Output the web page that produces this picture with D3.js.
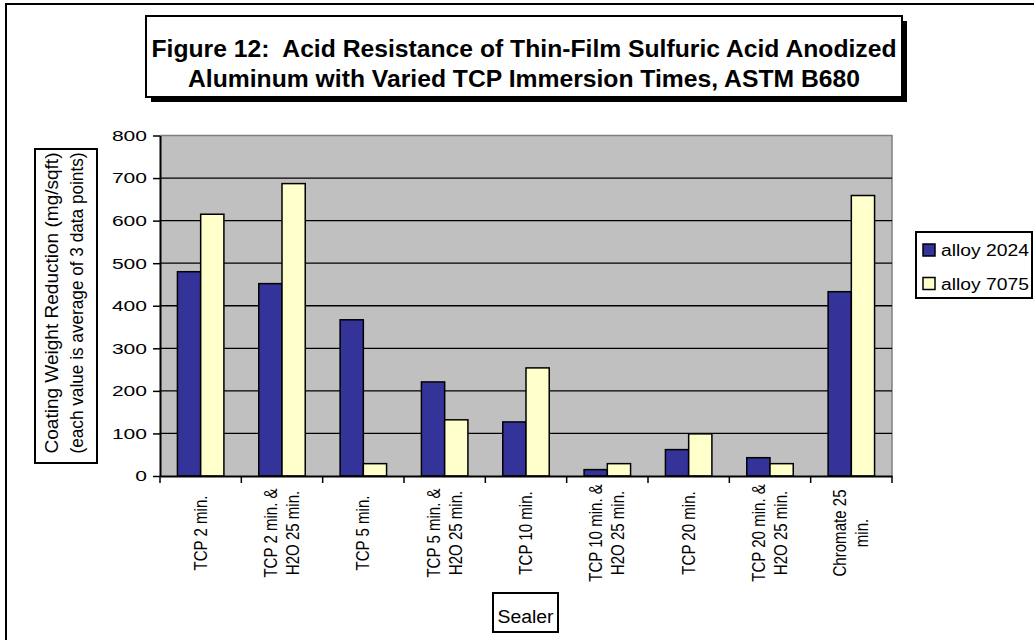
<!DOCTYPE html>
<html>
<head>
<meta charset="utf-8">
<script src="https://cdn.jsdelivr.net/npm/d3@7"></script>
<style>
  html, body { margin: 0; padding: 0; background: #fff; }
  svg { display: block; }
  text { font-family: "Liberation Sans", Arial, sans-serif; fill: #000; white-space: pre; }
</style>
</head>
<body>
<svg id="chart" width="1034" height="640"></svg>
<script>
// ---- data ----
const categories = [
  "TCP 2 min.",
  "TCP 2 min. &\nH2O 25 min.",
  "TCP 5 min.",
  "TCP 5 min. &\nH2O 25 min.",
  "TCP 10 min.",
  "TCP 10 min. &\nH2O 25 min.",
  "TCP 20 min.",
  "TCP 20 min. &\nH2O 25 min.",
  "Chromate 25\nmin."
];
const seriesNames = ["alloy 2024", "alloy 7075"];
const alloy2024 = [480, 452, 367, 221, 127, 15, 62, 43, 433];
const alloy7075 = [615, 687, 29, 132, 254, 29, 99, 29, 659];
const yTicks = [0, 100, 200, 300, 400, 500, 600, 700, 800];
const titleLines = [
  "Figure 12:  Acid Resistance of Thin-Film Sulfuric Acid Anodized",
  "Aluminum with Varied TCP Immersion Times, ASTM B680"
];
const yTitleLines = [
  "Coating Weight Reduction (mg/sqft)",
  "(each value is average of 3 data points)"
];
const xTitle = "Sealer";
const colors = ["#333399", "#FFFFCC"];

// ---- layout ----
const svg = d3.select("#chart");
const plot = { left: 160, right: 892, top: 135.5, bottom: 476 };

// outer chart border
svg.append("rect").attr("x", 6).attr("y", 4).attr("width", 1100).attr("height", 700)
  .attr("fill", "none").attr("stroke", "#000").attr("stroke-width", 2);

// scales
const x = d3.scaleBand().domain(categories).range([plot.left, plot.right]).paddingInner(0).paddingOuter(0);
const x1 = d3.scaleBand().domain(seriesNames).range([0, x.bandwidth()]).paddingInner(0).paddingOuter(0.75);
const y = d3.scaleLinear().domain([0, 800]).range([plot.bottom, plot.top]);

// plot area
svg.append("rect").attr("x", plot.left).attr("y", plot.top)
  .attr("width", plot.right - plot.left).attr("height", plot.bottom - plot.top)
  .attr("fill", "#C0C0C0");
svg.append("path")
  .attr("d", `M${plot.left},${y(800)}H${plot.right}V${plot.bottom}`)
  .attr("fill", "none").attr("stroke", "#808080").attr("stroke-width", 1.5);

// gridlines
svg.append("g").selectAll("line").data(yTicks.filter(d => d > 0 && d < 800)).join("line")
  .attr("x1", plot.left).attr("x2", plot.right)
  .attr("y1", d => y(d)).attr("y2", d => y(d))
  .attr("stroke", "#000").attr("stroke-width", 1.3);

// bars
const values = [alloy2024, alloy7075];
const groups = svg.append("g").selectAll("g").data(categories).join("g")
  .attr("transform", d => `translate(${x(d)},0)`);
groups.selectAll("rect").data((d, i) => seriesNames.map((s, j) => ({ s, v: values[j][i], j })))
  .join("rect")
  .attr("x", d => x1(d.s)).attr("width", x1.bandwidth())
  .attr("y", d => y(d.v)).attr("height", d => y(0) - y(d.v))
  .attr("fill", d => colors[d.j]).attr("stroke", "#000").attr("stroke-width", 1.5);

// y axis
const yAxis = svg.append("g").attr("transform", `translate(${plot.left},0)`)
  .call(d3.axisLeft(y).tickValues(yTicks).tickSize(7).tickPadding(6).tickSizeOuter(0));
yAxis.select(".domain").attr("stroke", "#000").attr("stroke-width", 2);
yAxis.selectAll(".tick line").attr("stroke", "#000").attr("stroke-width", 1.5);
yAxis.selectAll(".tick text").attr("font-size", 15).style("font-family", "Liberation Sans, Arial, sans-serif")
  .attr("fill", "#000")
  .attr("textLength", d => String(d).length * 11.7).attr("lengthAdjust", "spacingAndGlyphs");

// x axis (domain line + boundary ticks)
const xAxis = svg.append("g").attr("transform", `translate(0,${plot.bottom})`)
  .call(d3.axisBottom(x).tickSize(0).tickFormat("").tickSizeOuter(0));
xAxis.select(".domain").attr("stroke", "#000").attr("stroke-width", 2);
const bounds = categories.map(c => x(c)).concat([x(categories[categories.length - 1]) + x.bandwidth()]);
svg.append("g").selectAll("line").data(bounds).join("line")
  .attr("x1", d => d).attr("x2", d => d).attr("y1", plot.bottom).attr("y2", plot.bottom + 7)
  .attr("stroke", "#000").attr("stroke-width", 1.5);

// x labels (rotated)
const xl = svg.append("g").selectAll("text").data(categories).join("text")
  .attr("transform", d => `translate(${x(d) + x.bandwidth() / 2},533) rotate(-90)`)
  .attr("text-anchor", "middle").attr("font-size", 17.5);
xl.each(function (d) {
  const lines = d.split("\n");
  const t = d3.select(this);
  lines.forEach((ln, k) => {
    const off = (k - (lines.length - 1) / 2) * 22 + 6;
    const ts = t.append("tspan").attr("x", 0).attr("y", off).text(ln);
    const n = ts.node().getComputedTextLength();
    ts.attr("textLength", n * 0.86).attr("lengthAdjust", "spacingAndGlyphs");
  });
});

// x title box
svg.append("rect").attr("x", 493).attr("y", 593).attr("width", 65).attr("height", 39)
  .attr("fill", "#fff").attr("stroke", "#000").attr("stroke-width", 2);
svg.append("text").attr("x", 525.5).attr("y", 623).attr("text-anchor", "middle")
  .attr("font-size", 18).attr("textLength", 56).attr("lengthAdjust", "spacingAndGlyphs").text(xTitle);

// y title box
svg.append("rect").attr("x", 35).attr("y", 149).attr("width", 62).attr("height", 314)
  .attr("fill", "#fff").attr("stroke", "#000").attr("stroke-width", 2);
const yt = svg.append("text").attr("transform", "translate(64,303) rotate(-90)")
  .attr("text-anchor", "middle").attr("font-size", 18);
yTitleLines.forEach((ln, k) => {
  yt.append("tspan").attr("x", 0).attr("y", (k - 0.5) * 25 + 6.5)
    .attr("textLength", 301).attr("lengthAdjust", "spacingAndGlyphs").text(ln);
});

// legend
const lg = svg.append("g");
lg.append("rect").attr("x", 916).attr("y", 232).attr("width", 116).attr("height", 66)
  .attr("fill", "#fff").attr("stroke", "#000").attr("stroke-width", 2);
const legendRows = [250, 283.5];
seriesNames.forEach((s, i) => {
  lg.append("rect").attr("x", 923).attr("y", legendRows[i] - 6).attr("width", 12).attr("height", 12)
    .attr("fill", colors[i]).attr("stroke", "#000").attr("stroke-width", 1.5);
  lg.append("text").attr("x", 941).attr("y", legendRows[i] + 6).attr("font-size", 16)
    .attr("textLength", 88).attr("lengthAdjust", "spacingAndGlyphs").text(s);
});

// title box with shadow
svg.append("rect").attr("x", 151).attr("y", 21).attr("width", 756).attr("height", 81).attr("fill", "#000");
svg.append("rect").attr("x", 146).attr("y", 16).attr("width", 756).attr("height", 81)
  .attr("fill", "#fff").attr("stroke", "#000").attr("stroke-width", 2);
const tt = svg.append("g");
const t1 = tt.append("text").attr("x", 524).attr("y", 57).attr("text-anchor", "middle")
  .attr("font-size", 23).attr("font-weight", "bold").text(titleLines[0]);
const t2 = tt.append("text").attr("x", 524).attr("y", 87).attr("text-anchor", "middle")
  .attr("font-size", 23).attr("font-weight", "bold").text(titleLines[1]);
const n1 = t1.node().getComputedTextLength();
const n2 = t2.node().getComputedTextLength();
const ratio = 745 / n1;
t1.attr("textLength", 745).attr("lengthAdjust", "spacingAndGlyphs");
t2.attr("textLength", n2 * ratio).attr("lengthAdjust", "spacingAndGlyphs");
</script>
</body>
</html>
